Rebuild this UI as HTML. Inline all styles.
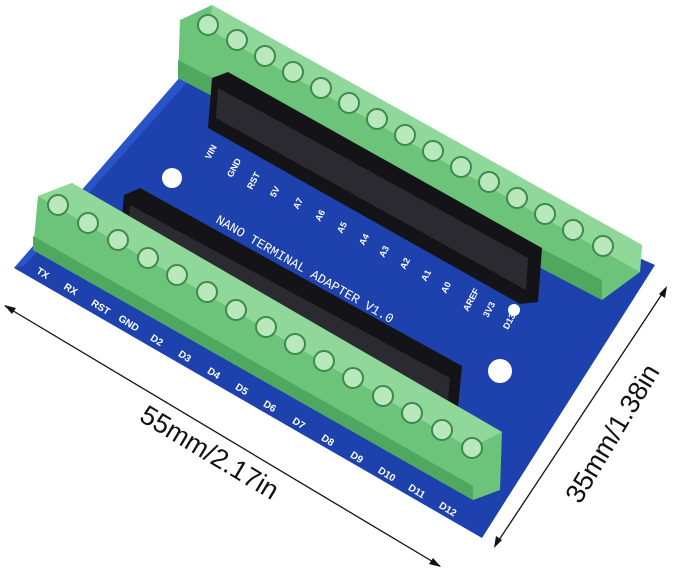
<!DOCTYPE html>
<html><head><style>body{margin:0;background:#fff}svg{display:block}</style></head><body>
<svg width="679" height="575" viewBox="0 0 679 575" xmlns="http://www.w3.org/2000/svg" font-family="Liberation Sans, sans-serif">
<rect width="679" height="575" fill="#fff"/>
<!-- board -->
<polygon points="14,268 195,60 655,265 482,538" fill="#1d42ad"/>
<polygon points="14,268 195,60 205,62 24,266" fill="#2a55c8"/>
<!-- holes -->
<circle cx="172" cy="178" r="10" fill="#fff"/>
<circle cx="514" cy="310" r="6" fill="#fff"/>
<circle cx="500" cy="371" r="12" fill="#fff"/>
<!-- top terminal block -->
<polygon points="180,20 212,5 642,245 640,272 602,300 178,78" fill="#6cc47a"/>
<polygon points="178,60 602,280 602,300 178,78" fill="#4fa860"/>
<polygon points="212,5 642,245 640,272 210,30" fill="#8fd89a"/>
<g fill="#b9e8bd" stroke="#3e8a4c" stroke-width="2">
<circle cx="208" cy="25" r="10"/><circle cx="237" cy="40" r="10"/><circle cx="265" cy="56" r="10"/><circle cx="293" cy="72" r="10"/><circle cx="321" cy="88" r="10"/><circle cx="349" cy="103" r="10"/><circle cx="377" cy="119" r="10"/><circle cx="405" cy="135" r="10"/><circle cx="433" cy="151" r="10"/><circle cx="461" cy="167" r="10"/><circle cx="489" cy="182" r="10"/><circle cx="517" cy="198" r="10"/><circle cx="545" cy="214" r="10"/><circle cx="573" cy="230" r="10"/><circle cx="603" cy="246" r="10"/>
</g>
<!-- upper header -->
<polygon points="212,78 228,72 542,248 538,302 520,304 208,128" fill="#141418"/>
<polygon points="218,88 528,258 526,290 216,118" fill="#2a2a30"/>
<!-- lower header -->
<polygon points="124,195 140,188 462,366 458,408 442,412 120,238" fill="#141418"/>
<polygon points="130,205 450,378 448,400 128,228" fill="#2a2a30"/>
<!-- top labels -->
<g fill="#fff" font-size="9" font-weight="bold">
<text transform="translate(210,160) rotate(-62)">VIN</text>
<text transform="translate(232,178) rotate(-62)">GND</text>
<text transform="translate(252,190) rotate(-62)">RST</text>
<text transform="translate(275,198) rotate(-62)">5V</text>
<text transform="translate(298,210) rotate(-62)">A7</text>
<text transform="translate(320,222) rotate(-62)">A6</text>
<text transform="translate(342,234) rotate(-62)">A5</text>
<text transform="translate(364,246) rotate(-62)">A4</text>
<text transform="translate(384,258) rotate(-62)">A3</text>
<text transform="translate(405,270) rotate(-62)">A2</text>
<text transform="translate(426,282) rotate(-62)">A1</text>
<text transform="translate(446,294) rotate(-62)">A0</text>
<text transform="translate(468,312) rotate(-62)">AREF</text>
<text transform="translate(488,318) rotate(-62)">3V3</text>
<text transform="translate(508,330) rotate(-62)">D13</text>
</g>
<text transform="translate(215,222) rotate(30)" fill="#fff" font-size="13" font-family="Liberation Mono, monospace">NANO TERMINAL ADAPTER V1.0</text>
<!-- bottom terminal block -->
<polygon points="38,196 72,183 502,432 500,490 473,500 33,250" fill="#6cc47a"/>
<polygon points="38,196 72,183 502,432 470,448" fill="#8fd89a"/>
<polygon points="33,236 473,486 473,500 33,250" fill="#4fa860"/>
<g fill="#b9e8bd" stroke="#3e8a4c" stroke-width="2">
<circle cx="58" cy="205" r="10"/><circle cx="88" cy="223" r="10"/><circle cx="118" cy="240" r="10"/><circle cx="148" cy="258" r="10"/><circle cx="177" cy="275" r="10"/><circle cx="207" cy="292" r="10"/><circle cx="236" cy="310" r="10"/><circle cx="266" cy="327" r="10"/><circle cx="295" cy="344" r="10"/><circle cx="324" cy="361" r="10"/><circle cx="353" cy="378" r="10"/><circle cx="383" cy="396" r="10"/><circle cx="412" cy="413" r="10"/><circle cx="442" cy="430" r="10"/><circle cx="472" cy="448" r="10"/>
</g>
<!-- bottom labels -->
<g fill="#fff" font-size="10" font-weight="bold" text-anchor="middle">
<text transform="translate(41,276) rotate(32)">TX</text>
<text transform="translate(69,292) rotate(32)">RX</text>
<text transform="translate(99,310) rotate(32)">RST</text>
<text transform="translate(127,326) rotate(32)">GND</text>
<text transform="translate(155,343) rotate(32)">D2</text>
<text transform="translate(183,359) rotate(32)">D3</text>
<text transform="translate(212,376) rotate(32)">D4</text>
<text transform="translate(240,392) rotate(32)">D5</text>
<text transform="translate(268,409) rotate(32)">D6</text>
<text transform="translate(297,426) rotate(32)">D7</text>
<text transform="translate(326,443) rotate(32)">D8</text>
<text transform="translate(355,460) rotate(32)">D9</text>
<text transform="translate(385,477) rotate(32)">D10</text>
<text transform="translate(415,494) rotate(32)">D11</text>
<text transform="translate(446,512) rotate(32)">D12</text>
</g>
<!-- dimension lines -->
<g stroke="#111" stroke-width="1.3" fill="#111">
<line x1="5" y1="306" x2="440" y2="566"/>
<line x1="666" y1="288" x2="495" y2="546"/>
</g>
<polygon points="4,305 16,308 12,314" fill="#111"/>
<polygon points="441,567 429,564 433,558" fill="#111"/>
<polygon points="667,286 665,298 659,294" fill="#111"/>
<polygon points="494,548 496,536 502,540" fill="#111"/>
<text transform="translate(138,420) rotate(31)" font-size="27" fill="#111">55mm/2.17in</text>
<text transform="translate(580,505) rotate(-59)" font-size="27" fill="#111">35mm/1.38in</text>
</svg>
</body></html>
